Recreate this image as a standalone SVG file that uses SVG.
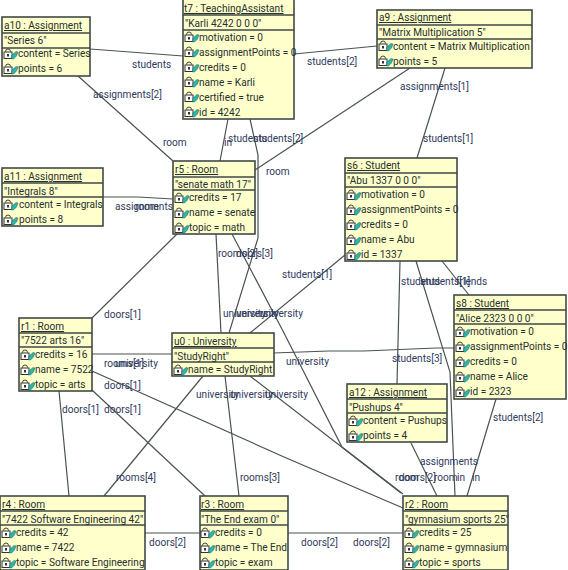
<svg xmlns="http://www.w3.org/2000/svg" width="568" height="570" viewBox="0 0 568 570">
<style>
text{font-family:Roboto,"Liberation Sans",sans-serif;font-size:10.1px;fill:#26302c}
.l text{fill:#2f3a5c}
.c path{fill:none;stroke:#4a5350;stroke-width:1.2}
.b{fill:#ffffcc;stroke:#3f4a45;stroke-width:1.6}
.s{stroke:#3f4a45;stroke-width:1.3;fill:none}
.t{text-decoration:underline}
</style>
<defs>
<g id="i">
<path d="M2.500 3.500a2.500 2.500 0 0 1 5 0" fill="none" stroke="#444" stroke-width="1"/>
<rect x="1" y="4" width="8" height="6.500" fill="#fff" stroke="#333" stroke-width="1"/>
<rect x="4" y="6" width="2" height="2.500" fill="#333"/>
<path d="M8.500 11l.5-4 4-3.500 2 .5-1.500 4-3 3z" fill="#2cb5ad" stroke="#1d5f5c" stroke-width=".5"/>
</g>
</defs>
<g class="c" id="connectors">
<path d="M90 49L183 56"/>
<path d="M294 54L377 46"/>
<path d="M78 76L173 161"/>
<path d="M228 119L220 161"/>
<path d="M250 119L258 155V238L229 333"/>
<path d="M410 68L255 170"/>
<path d="M445 68L417 158"/>
<path d="M103 197H138L173 199"/>
<path d="M177 234L92 318"/>
<path d="M216 234L221 333"/>
<path d="M232 234L284 333L342 447L403 494"/>
<path d="M250 376L401 493"/>
<path d="M92 371L284 457L403 508"/>
<path d="M92 354H172"/>
<path d="M59 391L69 496"/>
<path d="M92 390L205 496"/>
<path d="M203 376L104 496"/>
<path d="M225 376L239 496"/>
<path d="M250 333L345 255"/>
<path d="M273 353L329 351H364L436 348H454"/>
<path d="M400 261L397 384"/>
<path d="M416 261L450 372L455 496"/>
<path d="M442 261L469 295"/>
<path d="M411 443L437 496"/>
<path d="M496 399L467 496"/>
<path d="M145 533H200"/>
<path d="M288 533H403"/>
</g>
<g class="l" id="labels">
<text x="132" y="68">students</text>
<text x="93" y="98">assignments[2]</text>
<text x="163" y="146">room</text>
<text x="224" y="146">in</text>
<text x="228" y="142">students</text>
<text x="253" y="142">students[2]</text>
<text x="266" y="175">room</text>
<text x="307" y="65">students[2]</text>
<text x="400" y="90">assignments[1]</text>
<text x="423" y="142">students[1]</text>
<text x="115" y="210">assignments[</text>
<text x="135" y="210">room</text>
<text x="218" y="257">rooms[2]</text>
<text x="236" y="257">doors[3]</text>
<text x="282" y="278">students[1]</text>
<text x="401" y="285">students</text>
<text x="420" y="285">students[1]</text>
<text x="456" y="285">friends</text>
<text x="104" y="318">doors[1]</text>
<text x="223" y="317">university</text>
<text x="236" y="317">university</text>
<text x="260" y="317">university</text>
<text x="104" y="367">rooms[1]</text>
<text x="115" y="367">university</text>
<text x="286" y="365">university</text>
<text x="392" y="362">students[3]</text>
<text x="104" y="389">doors[1]</text>
<text x="196" y="398">university</text>
<text x="230" y="398">university</text>
<text x="265" y="398">university</text>
<text x="62" y="413">doors[1]</text>
<text x="104" y="413">doors[1]</text>
<text x="493" y="421">students[2]</text>
<text x="420" y="465">assignments</text>
<text x="116" y="481">rooms[4]</text>
<text x="240" y="481">rooms[3]</text>
<text x="395" y="481">room</text>
<text x="399" y="481">doors[2]</text>
<text x="434" y="481">room</text>
<text x="457" y="481">in</text>
<text x="472" y="481">in</text>
<text x="149" y="546">doors[2]</text>
<text x="301" y="546">doors[2]</text>
<text x="353" y="546">doors[2]</text>
</g>
<g id="a10"><rect class="b" x="2" y="17" width="88" height="59"/><path class="s" d="M2 33H90M2 48H90"/><text class="t" x="4" y="29">a10 : Assignment</text><text x="4" y="44">"Series 6"</text><use href="#i" x="3" y="48"/><text x="18" y="57">content = Series</text><use href="#i" x="3" y="63"/><text x="18" y="72">points = 6</text></g>
<g id="t7"><rect class="b" x="183" y="-1" width="111" height="120"/><path class="s" d="M183 15H294M183 30H294"/><text class="t" x="184" y="12">t7 : TeachingAssistant</text><text x="185" y="27">"Karli 4242 0 0 0"</text><use href="#i" x="184" y="31"/><text x="199" y="41">motivation = 0</text><use href="#i" x="184" y="46"/><text x="199" y="56">assignmentPoints = 0</text><use href="#i" x="184" y="61"/><text x="199" y="71">credits = 0</text><use href="#i" x="184" y="76"/><text x="199" y="86">name = Karli</text><use href="#i" x="184" y="91"/><text x="199" y="101">certified = true</text><use href="#i" x="184" y="106"/><text x="199" y="116">id = 4242</text></g>
<g id="a9"><rect class="b" x="377" y="10" width="155" height="58"/><path class="s" d="M377 25H532M377 39H532"/><text class="t" x="379" y="21">a9 : Assignment</text><text x="379" y="36">"Matrix Multiplication 5"</text><use href="#i" x="378" y="40"/><text x="393" y="50">content = Matrix Multiplication</text><use href="#i" x="378" y="55"/><text x="393" y="65">points = 5</text></g>
<g id="s6"><rect class="b" x="345" y="158" width="112" height="103"/><path class="s" d="M345 173H457M345 187H457"/><text class="t" x="347" y="169">s6 : Student</text><text x="347" y="184">"Abu 1337 0 0 0"</text><use href="#i" x="346" y="189"/><text x="361" y="198">motivation = 0</text><use href="#i" x="346" y="204"/><text x="361" y="213">assignmentPoints = 0</text><use href="#i" x="346" y="219"/><text x="361" y="228">credits = 0</text><use href="#i" x="346" y="234"/><text x="361" y="243">name = Abu</text><use href="#i" x="346" y="249"/><text x="361" y="258">id = 1337</text></g>
<g id="a11"><rect class="b" x="2" y="168" width="101" height="58"/><path class="s" d="M2 183H103M2 197H103"/><text class="t" x="4" y="180">a11 : Assignment</text><text x="4" y="195">"Integrals 8"</text><use href="#i" x="3" y="199"/><text x="19" y="208">content = Integrals</text><use href="#i" x="3" y="214"/><text x="19" y="223">points = 8</text></g>
<g id="r5"><rect class="b" x="173" y="161" width="82" height="73"/><path class="s" d="M173 177H255M173 190H255"/><text class="t" x="175" y="173">r5 : Room</text><text x="175" y="188">"senate math 17"</text><use href="#i" x="174" y="192"/><text x="189" y="201">credits = 17</text><use href="#i" x="174" y="207"/><text x="189" y="216">name = senate</text><use href="#i" x="174" y="222"/><text x="189" y="231">topic = math</text></g>
<g id="r1"><rect class="b" x="19" y="318" width="73" height="73"/><path class="s" d="M19 333H92M19 347H92"/><text class="t" x="21" y="330">r1 : Room</text><text x="21" y="344">"7522 arts 16"</text><use href="#i" x="20" y="349"/><text x="35" y="358">credits = 16</text><use href="#i" x="20" y="364"/><text x="35" y="373">name = 7522</text><use href="#i" x="20" y="379"/><text x="35" y="388">topic = arts</text></g>
<g id="u0"><rect class="b" x="172" y="333" width="102" height="43"/><path class="s" d="M172 348H274M172 362H274"/><text class="t" x="174" y="345">u0 : University</text><text x="174" y="360">"StudyRight"</text><use href="#i" x="173" y="364"/><text x="188" y="373">name = StudyRight</text></g>
<g id="r4"><rect class="b" x="0" y="496" width="145" height="74"/><path class="s" d="M0 511H145M0 525H145"/><text class="t" x="2" y="508">r4 : Room</text><text x="2" y="523">"7422 Software Engineering 42"</text><use href="#i" x="1" y="527"/><text x="16" y="536">credits = 42</text><use href="#i" x="1" y="542"/><text x="16" y="551">name = 7422</text><use href="#i" x="1" y="557"/><text x="16" y="566">topic = Software Engineering</text></g>
<g id="r3"><rect class="b" x="200" y="496" width="88" height="74"/><path class="s" d="M200 511H288M200 525H288"/><text class="t" x="201" y="508">r3 : Room</text><text x="201" y="523">"The End exam 0"</text><use href="#i" x="200" y="527"/><text x="215" y="536">credits = 0</text><use href="#i" x="200" y="542"/><text x="215" y="551">name = The End</text><use href="#i" x="200" y="557"/><text x="215" y="566">topic = exam</text></g>
<g id="a12"><rect class="b" x="347" y="384" width="100" height="58"/><path class="s" d="M347 399H447M347 413H447"/><text class="t" x="349" y="396">a12 : Assignment</text><text x="349" y="411">"Pushups 4"</text><use href="#i" x="348" y="415"/><text x="363" y="424">content = Pushups</text><use href="#i" x="348" y="430"/><text x="363" y="439">points = 4</text></g>
<g id="s8"><rect class="b" x="454" y="295" width="112" height="104"/><path class="s" d="M454 310H566M454 324H566"/><text class="t" x="456" y="307">s8 : Student</text><text x="456" y="322">"Alice 2323 0 0 0"</text><use href="#i" x="455" y="326"/><text x="470" y="335">motivation = 0</text><use href="#i" x="455" y="341"/><text x="470" y="350">assignmentPoints = 0</text><use href="#i" x="455" y="356"/><text x="470" y="365">credits = 0</text><use href="#i" x="455" y="371"/><text x="470" y="380">name = Alice</text><use href="#i" x="455" y="386"/><text x="470" y="395">id = 2323</text></g>
<g id="r2"><rect class="b" x="403" y="496" width="105" height="74"/><path class="s" d="M403 511H508M403 525H508"/><text class="t" x="405" y="508">r2 : Room</text><text x="405" y="523">"gymnasium sports 25"</text><use href="#i" x="404" y="527"/><text x="419" y="536">credits = 25</text><use href="#i" x="404" y="542"/><text x="419" y="551">name = gymnasium</text><use href="#i" x="404" y="557"/><text x="419" y="566">topic = sports</text></g>
</svg>
